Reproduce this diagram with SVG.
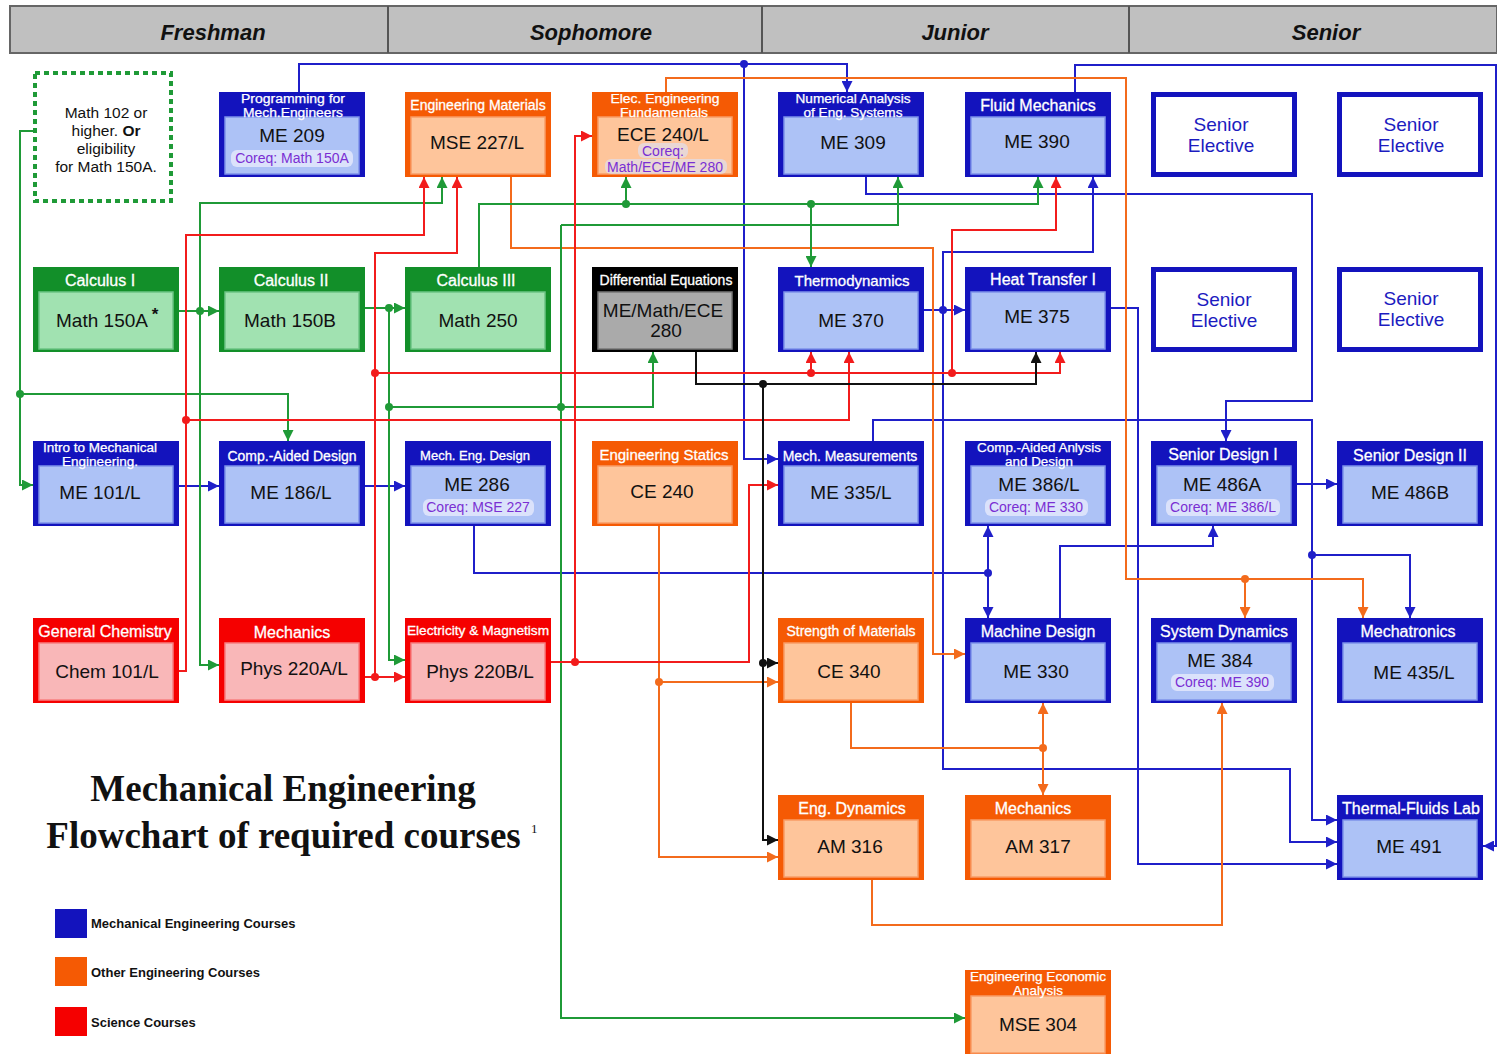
<svg xmlns="http://www.w3.org/2000/svg" width="1497" height="1054" viewBox="0 0 1497 1054">
<style>
text{font-family:"Liberation Sans",Arial,sans-serif}
.o{stroke:none}
.me .o{fill:#1313bd}.me .i{fill:#adc2f6;stroke:#7e92ea;stroke-width:1.5}
.oe .o{fill:#f55a04}.oe .i{fill:#fec59b;stroke:#f99c66;stroke-width:1.5}
.ma .o{fill:#128f29}.ma .i{fill:#a1e2b1;stroke:#6cc585;stroke-width:1.5}
.sc .o{fill:#f50000}.sc .i{fill:#f9b7b8;stroke:#f77f80;stroke-width:1.5}
.de .o{fill:#000}.de .i{fill:#aaaaaa;stroke:#777;stroke-width:1.5}
.h{fill:#fff;stroke:#fff;stroke-width:0.3;text-anchor:middle}
.h2{fill:#fff;stroke:#fff;stroke-width:0.25;text-anchor:middle;font-size:12px}
.m{font-size:19px;fill:#111;text-anchor:middle}
.c{font-size:14px;fill:#7a2fd3;text-anchor:middle}
.p{fill:#dbe2fb}
.se{fill:#fff;stroke:#1313bd;stroke-width:5}
.set{font-size:19px;fill:#1c1cc0;text-anchor:middle}
.yr{font-size:22px;font-weight:bold;font-style:italic;fill:#111;text-anchor:middle}
.lg{font-size:13px;font-weight:bold;fill:#111}
.ti{font-family:"Liberation Serif","Times New Roman",serif;font-weight:bold;font-size:37px;fill:#111;text-anchor:middle}
.cn path{fill:none;stroke-width:2}
.b path{stroke:#1f1fc9}.b circle{fill:#1f1fc9}
.or path{stroke:#f36b1c}.or circle{fill:#f36b1c}
.g path{stroke:#1f9a37}.g circle{fill:#1f9a37}
.r path{stroke:#f21c1c}.r circle{fill:#f21c1c}
.k path{stroke:#111}.k circle{fill:#111}
</style>
<defs>
<marker id="aB" viewBox="0 0 10 10" refX="10" refY="5" markerWidth="11" markerHeight="11" markerUnits="userSpaceOnUse" orient="auto"><path d="M0,0L10,5L0,10z" fill="#1f1fc9"/></marker>
<marker id="aO" viewBox="0 0 10 10" refX="10" refY="5" markerWidth="11" markerHeight="11" markerUnits="userSpaceOnUse" orient="auto"><path d="M0,0L10,5L0,10z" fill="#f36b1c"/></marker>
<marker id="aG" viewBox="0 0 10 10" refX="10" refY="5" markerWidth="11" markerHeight="11" markerUnits="userSpaceOnUse" orient="auto"><path d="M0,0L10,5L0,10z" fill="#1f9a37"/></marker>
<marker id="aR" viewBox="0 0 10 10" refX="10" refY="5" markerWidth="11" markerHeight="11" markerUnits="userSpaceOnUse" orient="auto"><path d="M0,0L10,5L0,10z" fill="#f21c1c"/></marker>
<marker id="aK" viewBox="0 0 10 10" refX="10" refY="5" markerWidth="11" markerHeight="11" markerUnits="userSpaceOnUse" orient="auto"><path d="M0,0L10,5L0,10z" fill="#111"/></marker>
</defs>
<rect width="1497" height="1054" fill="#fff"/>

<g id="years">
<rect x="10" y="6" width="1487" height="47" fill="#c0c0c0" stroke="#666" stroke-width="2"/>
<path d="M388,6V53M762,6V53M1129,6V53" stroke="#555" stroke-width="2"/>
<text class="yr" x="213" y="40">Freshman</text>
<text class="yr" x="591" y="40">Sophomore</text>
<text class="yr" x="955" y="40">Junior</text>
<text class="yr" x="1326" y="40">Senior</text>
</g>

<g id="math102">
<rect x="35" y="73" width="136" height="128" fill="none" stroke="#1f9a37" stroke-width="4" stroke-dasharray="5,4"/>
<text x="106" y="117.5" font-size="15.5" text-anchor="middle" fill="#111">Math 102 or</text>
<text x="106" y="135.5" font-size="15.5" text-anchor="middle" fill="#111">higher. <tspan font-weight="bold">Or</tspan></text>
<text x="106" y="153.5" font-size="15.5" text-anchor="middle" fill="#111">eligibility</text>
<text x="106" y="171.5" font-size="15.5" text-anchor="middle" fill="#111">for Math 150A.</text>
</g>

<!-- Row 1 -->
<g id="me209" class="me">
<rect class="o" x="219" y="92" width="146" height="85"/><rect class="i" x="225" y="117" width="134" height="57"/>
<text class="h2" x="293" y="103" textLength="104" lengthAdjust="spacingAndGlyphs">Programming for</text>
<text class="h2" x="293" y="116.5" textLength="100" lengthAdjust="spacingAndGlyphs">Mech.Engineers</text>
<text class="m" x="292" y="142">ME 209</text>
<rect class="p" x="231" y="150" width="122" height="17" rx="6"/>
<text class="c" x="292" y="163">Coreq: Math 150A</text>
</g>
<g id="mse227" class="oe">
<rect class="o" x="405" y="92" width="146" height="85"/><rect class="i" x="411" y="117" width="134" height="57"/>
<text class="h" x="478" y="110" font-size="14">Engineering Materials</text>
<text class="m" x="477" y="149">MSE 227/L</text>
</g>
<g id="ece240" class="oe">
<rect class="o" x="592" y="92" width="146" height="85"/><rect class="i" x="598" y="117" width="134" height="57"/>
<text class="h2" x="665" y="103" textLength="109" lengthAdjust="spacingAndGlyphs">Elec. Engineering</text>
<text class="h2" x="664" y="116.5" textLength="88" lengthAdjust="spacingAndGlyphs">Fundamentals</text>
<text class="m" x="663" y="141">ECE 240/L</text>
<rect class="p" x="638" y="143" width="50" height="15" rx="6" opacity="0.6"/>
<text class="c" x="663" y="156" font-size="13.5">Coreq:</text>
<rect class="p" x="605" y="159" width="122" height="15" rx="6" opacity="0.6"/>
<text class="c" x="665" y="172" font-size="13.5">Math/ECE/ME 280</text>
</g>
<g id="me309" class="me">
<rect class="o" x="778" y="92" width="146" height="85"/><rect class="i" x="784" y="117" width="134" height="57"/>
<text class="h2" x="853" y="103" textLength="115" lengthAdjust="spacingAndGlyphs">Numerical Analysis</text>
<text class="h2" x="853" y="116.5" textLength="99" lengthAdjust="spacingAndGlyphs">of Eng. Systems</text>
<text class="m" x="853" y="149">ME 309</text>
</g>
<g id="me390" class="me">
<rect class="o" x="965" y="92" width="146" height="85"/><rect class="i" x="971" y="117" width="134" height="57"/>
<text class="h" x="1038" y="111" font-size="16">Fluid Mechanics</text>
<text class="m" x="1037" y="148">ME 390</text>
</g>
<g id="se1"><rect class="se" x="1153.5" y="94.5" width="141" height="80"/>
<text class="set" x="1221" y="131">Senior</text><text class="set" x="1221" y="152">Elective</text></g>
<g id="se2"><rect class="se" x="1339.5" y="94.5" width="141" height="80"/>
<text class="set" x="1411" y="131">Senior</text><text class="set" x="1411" y="152">Elective</text></g>

<!-- Row 2 -->
<g id="math150a" class="ma">
<rect class="o" x="33" y="267" width="146" height="85"/><rect class="i" x="39" y="292" width="134" height="57"/>
<text class="h" x="100" y="286" font-size="16">Calculus I</text>
<text class="m" x="102" y="327">Math 150A</text>
<text x="155" y="320" font-size="17" font-weight="bold" fill="#111" text-anchor="middle">*</text>
</g>
<g id="math150b" class="ma">
<rect class="o" x="219" y="267" width="146" height="85"/><rect class="i" x="225" y="292" width="134" height="57"/>
<text class="h" x="291" y="286" font-size="16">Calculus II</text>
<text class="m" x="290" y="327">Math 150B</text>
</g>
<g id="math250" class="ma">
<rect class="o" x="405" y="267" width="146" height="85"/><rect class="i" x="411" y="292" width="134" height="57"/>
<text class="h" x="476" y="286" font-size="16">Calculus III</text>
<text class="m" x="478" y="327">Math 250</text>
</g>
<g id="diffeq" class="de">
<rect class="o" x="592" y="267" width="146" height="85"/><rect class="i" x="598" y="292" width="134" height="57"/>
<text class="h" x="666" y="285" font-size="14">Differential Equations</text>
<text class="m" x="663" y="317">ME/Math/ECE</text>
<text class="m" x="666" y="337">280</text>
</g>
<g id="me370" class="me">
<rect class="o" x="778" y="267" width="146" height="85"/><rect class="i" x="784" y="292" width="134" height="57"/>
<text class="h" x="852" y="286" font-size="15">Thermodynamics</text>
<text class="m" x="851" y="327">ME 370</text>
</g>
<g id="me375" class="me">
<rect class="o" x="965" y="267" width="146" height="85"/><rect class="i" x="971" y="292" width="134" height="57"/>
<text class="h" x="1043" y="285" font-size="16">Heat Transfer I</text>
<text class="m" x="1037" y="323">ME 375</text>
</g>
<g id="se3"><rect class="se" x="1153.5" y="269.5" width="141" height="80"/>
<text class="set" x="1224" y="306">Senior</text><text class="set" x="1224" y="327">Elective</text></g>
<g id="se4"><rect class="se" x="1339.5" y="269.5" width="141" height="80"/>
<text class="set" x="1411" y="305">Senior</text><text class="set" x="1411" y="326">Elective</text></g>

<!-- Row 3 -->
<g id="me101" class="me">
<rect class="o" x="33" y="441" width="146" height="85"/><rect class="i" x="39" y="466" width="134" height="57"/>
<text class="h2" x="100" y="452" textLength="114" lengthAdjust="spacingAndGlyphs">Intro to Mechanical</text>
<text class="h2" x="100" y="465.5" textLength="76" lengthAdjust="spacingAndGlyphs">Engineering.</text>
<text class="m" x="100" y="499">ME 101/L</text>
</g>
<g id="me186" class="me">
<rect class="o" x="219" y="441" width="146" height="85"/><rect class="i" x="225" y="466" width="134" height="57"/>
<text class="h" x="292" y="461" font-size="14">Comp.-Aided Design</text>
<text class="m" x="291" y="499">ME 186/L</text>
</g>
<g id="me286" class="me">
<rect class="o" x="405" y="441" width="146" height="85"/><rect class="i" x="411" y="466" width="134" height="57"/>
<text class="h" x="475" y="460" font-size="13">Mech. Eng. Design</text>
<text class="m" x="477" y="491">ME 286</text>
<rect class="p" x="423" y="499" width="111" height="17" rx="6"/>
<text class="c" x="478" y="512">Coreq: MSE 227</text>
</g>
<g id="ce240" class="oe">
<rect class="o" x="592" y="441" width="146" height="85"/><rect class="i" x="598" y="466" width="134" height="57"/>
<text class="h" x="664" y="460" font-size="15">Engineering Statics</text>
<text class="m" x="662" y="498">CE 240</text>
</g>
<g id="me335" class="me">
<rect class="o" x="778" y="441" width="146" height="85"/><rect class="i" x="784" y="466" width="134" height="57"/>
<text class="h" x="850" y="461" font-size="14">Mech. Measurements</text>
<text class="m" x="851" y="499">ME 335/L</text>
</g>
<g id="me386" class="me">
<rect class="o" x="965" y="441" width="146" height="85"/><rect class="i" x="971" y="466" width="134" height="57"/>
<text class="h2" x="1039" y="452" textLength="124" lengthAdjust="spacingAndGlyphs">Comp.-Aided Anlysis</text>
<text class="h2" x="1039" y="465.5" textLength="68" lengthAdjust="spacingAndGlyphs">and Design</text>
<text class="m" x="1039" y="491">ME 386/L</text>
<rect class="p" x="985" y="499" width="103" height="17" rx="6"/>
<text class="c" x="1036" y="512">Coreq: ME 330</text>
</g>
<g id="me486a" class="me">
<rect class="o" x="1151" y="441" width="146" height="85"/><rect class="i" x="1157" y="466" width="134" height="57"/>
<text class="h" x="1223" y="460" font-size="16">Senior Design I</text>
<text class="m" x="1222" y="491">ME 486A</text>
<rect class="p" x="1166" y="499" width="114" height="17" rx="6"/>
<text class="c" x="1223" y="512">Coreq: ME 386/L</text>
</g>
<g id="me486b" class="me">
<rect class="o" x="1337" y="441" width="146" height="85"/><rect class="i" x="1343" y="466" width="134" height="57"/>
<text class="h" x="1410" y="461" font-size="16">Senior Design II</text>
<text class="m" x="1410" y="499">ME 486B</text>
</g>

<!-- Row 4 -->
<g id="chem101" class="sc">
<rect class="o" x="33" y="618" width="146" height="85"/><rect class="i" x="39" y="643" width="134" height="57"/>
<text class="h" x="105" y="637" font-size="16">General Chemistry</text>
<text class="m" x="107" y="678">Chem 101/L</text>
</g>
<g id="phys220a" class="sc">
<rect class="o" x="219" y="618" width="146" height="85"/><rect class="i" x="225" y="643" width="134" height="57"/>
<text class="h" x="292" y="638" font-size="16">Mechanics</text>
<text class="m" x="294" y="675">Phys 220A/L</text>
</g>
<g id="phys220b" class="sc">
<rect class="o" x="405" y="618" width="146" height="85"/><rect class="i" x="411" y="643" width="134" height="57"/>
<text class="h" x="478" y="635" font-size="13.7">Electricity &amp; Magnetism</text>
<text class="m" x="480" y="678">Phys 220B/L</text>
</g>
<g id="ce340" class="oe">
<rect class="o" x="778" y="618" width="146" height="85"/><rect class="i" x="784" y="643" width="134" height="57"/>
<text class="h" x="851" y="636" font-size="14">Strength of Materials</text>
<text class="m" x="849" y="678">CE 340</text>
</g>
<g id="me330" class="me">
<rect class="o" x="965" y="618" width="146" height="85"/><rect class="i" x="971" y="643" width="134" height="57"/>
<text class="h" x="1038" y="637" font-size="16">Machine Design</text>
<text class="m" x="1036" y="678">ME 330</text>
</g>
<g id="me384" class="me">
<rect class="o" x="1151" y="618" width="146" height="85"/><rect class="i" x="1157" y="643" width="134" height="57"/>
<text class="h" x="1224" y="637" font-size="16">System Dynamics</text>
<text class="m" x="1220" y="667">ME 384</text>
<rect class="p" x="1171" y="674" width="103" height="17" rx="6"/>
<text class="c" x="1222" y="687">Coreq: ME 390</text>
</g>
<g id="me435" class="me">
<rect class="o" x="1337" y="618" width="146" height="85"/><rect class="i" x="1343" y="643" width="134" height="57"/>
<text class="h" x="1408" y="637" font-size="16">Mechatronics</text>
<text class="m" x="1414" y="679">ME 435/L</text>
</g>

<!-- Row 5 -->
<g id="am316" class="oe">
<rect class="o" x="778" y="795" width="146" height="85"/><rect class="i" x="784" y="820" width="134" height="57"/>
<text class="h" x="852" y="814" font-size="16">Eng. Dynamics</text>
<text class="m" x="850" y="853">AM 316</text>
</g>
<g id="am317" class="oe">
<rect class="o" x="965" y="795" width="146" height="85"/><rect class="i" x="971" y="820" width="134" height="57"/>
<text class="h" x="1033" y="814" font-size="16">Mechanics</text>
<text class="m" x="1038" y="853">AM 317</text>
</g>
<g id="me491" class="me">
<rect class="o" x="1337" y="795" width="146" height="85"/><rect class="i" x="1343" y="820" width="134" height="57"/>
<text class="h" x="1411" y="814" font-size="16">Thermal-Fluids Lab</text>
<text class="m" x="1409" y="853">ME 491</text>
</g>

<!-- Row 6 -->
<g id="mse304" class="oe">
<rect class="o" x="965" y="970" width="146" height="85"/><rect class="i" x="971" y="996" width="134" height="57"/>
<text class="h2" x="1038" y="981" textLength="136" lengthAdjust="spacingAndGlyphs">Engineering Economic</text>
<text class="h2" x="1038" y="994.5" textLength="50" lengthAdjust="spacingAndGlyphs">Analysis</text>
<text class="m" x="1038" y="1031">MSE 304</text>
</g>

<g id="title">
<text class="ti" x="283" y="801">Mechanical Engineering</text>
<text class="ti" x="283.5" y="848">Flowchart of required courses</text>
<text x="531" y="833" font-size="13" fill="#111" style="font-family:'Liberation Serif',serif">1</text>
</g>

<g id="legend">
<rect x="55" y="909" width="32" height="29" fill="#1313bd"/>
<text class="lg" x="91" y="928">Mechanical Engineering Courses</text>
<rect x="55" y="957" width="32" height="29" fill="#f55a04"/>
<text class="lg" x="91" y="977">Other Engineering Courses</text>
<rect x="55" y="1007" width="32" height="29" fill="#f50000"/>
<text class="lg" x="91" y="1027">Science Courses</text>
</g>

<g id="connectors" class="cn">
<g class="b">
<path d="M299,92V64H847V92" marker-end="url(#aB)"/>
<path d="M744,64V459H778" marker-end="url(#aB)"/>
<path d="M1075,92V65H1496V846H1483" marker-end="url(#aB)"/>
<path d="M866,177V194H1312V401H1226V441" marker-end="url(#aB)"/>
<path d="M873,441V420H1312V820H1337" marker-end="url(#aB)"/>
<path d="M1312,555H1410V618" marker-end="url(#aB)"/>
<path d="M1111,308H1138V864H1337" marker-end="url(#aB)"/>
<path d="M924,310H965" marker-end="url(#aB)"/>
<path d="M943,310V252H1093V177" marker-end="url(#aB)"/>
<path d="M943,310V769H1290V842H1337" marker-end="url(#aB)"/>
<path d="M179,486H219" marker-end="url(#aB)"/>
<path d="M365,486H405" marker-end="url(#aB)"/>
<path d="M474,526V573H988"/>
<path d="M988,573V526" marker-end="url(#aB)"/>
<path d="M988,573V618" marker-end="url(#aB)"/>
<path d="M1060,618V546H1213V526" marker-end="url(#aB)"/>
<path d="M1297,484H1337" marker-end="url(#aB)"/>
<circle cx="744" cy="64" r="4"/><circle cx="1312" cy="555" r="4"/><circle cx="943" cy="310" r="4"/><circle cx="988" cy="573" r="4"/>
</g>
<g class="or">
<path d="M666,92V78H1126V579H1363V618" marker-end="url(#aO)"/>
<path d="M1245,579V618" marker-end="url(#aO)"/>
<path d="M511,177V248H933V654H965" marker-end="url(#aO)"/>
<path d="M659,526V857H778" marker-end="url(#aO)"/>
<path d="M659,682H778" marker-end="url(#aO)"/>
<path d="M851,703V748H1043"/>
<path d="M1043,748V703" marker-end="url(#aO)"/>
<path d="M1043,748V795" marker-end="url(#aO)"/>
<path d="M872,880V925H1222V703" marker-end="url(#aO)"/>
<circle cx="1245" cy="579" r="4"/><circle cx="659" cy="682" r="4"/><circle cx="1043" cy="748" r="4"/>
</g>
<g class="g">
<path d="M33,131H20V485H33" marker-end="url(#aG)"/>
<path d="M20,394H288V441" marker-end="url(#aG)"/>
<path d="M179,311H219" marker-end="url(#aG)"/>
<path d="M200,311V203H442V177" marker-end="url(#aG)"/>
<path d="M200,311V665H219" marker-end="url(#aG)"/>
<path d="M365,308H405" marker-end="url(#aG)"/>
<path d="M389,308V660H405" marker-end="url(#aG)"/>
<path d="M389,407H653V352" marker-end="url(#aG)"/>
<path d="M561,225H898V177" marker-end="url(#aG)"/>
<path d="M561,225V1018H965" marker-end="url(#aG)"/>
<path d="M479,267V204H1038V177" marker-end="url(#aG)"/>
<path d="M626,204V177" marker-end="url(#aG)"/>
<path d="M811,204V267" marker-end="url(#aG)"/>
<circle cx="20" cy="394" r="4"/><circle cx="200" cy="311" r="4"/><circle cx="389" cy="308" r="4"/><circle cx="389" cy="407" r="4"/><circle cx="561" cy="407" r="4"/><circle cx="626" cy="204" r="4"/><circle cx="811" cy="204" r="4"/>
</g>
<g class="r">
<path d="M179,671H186V235H424V177" marker-end="url(#aR)"/>
<path d="M186,420H849V352" marker-end="url(#aR)"/>
<path d="M365,677H405" marker-end="url(#aR)"/>
<path d="M375,677V253H457V177" marker-end="url(#aR)"/>
<path d="M375,373H1060V352" marker-end="url(#aR)"/>
<path d="M811,373V352" marker-end="url(#aR)"/>
<path d="M952,373V230H1056V177" marker-end="url(#aR)"/>
<path d="M551,662H749V485H778" marker-end="url(#aR)"/>
<path d="M575,662V136H592" marker-end="url(#aR)"/>
<circle cx="186" cy="420" r="4"/><circle cx="375" cy="677" r="4"/><circle cx="375" cy="373" r="4"/><circle cx="811" cy="373" r="4"/><circle cx="952" cy="373" r="4"/><circle cx="575" cy="662" r="4"/>
</g>
<g class="k">
<path d="M696,352V384H1036V352" marker-end="url(#aK)"/>
<path d="M763,384V840H778" marker-end="url(#aK)"/>
<path d="M763,663H778" marker-end="url(#aK)"/>
<circle cx="763" cy="384" r="4"/><circle cx="763" cy="663" r="4"/>
</g>
</g>
</svg>
